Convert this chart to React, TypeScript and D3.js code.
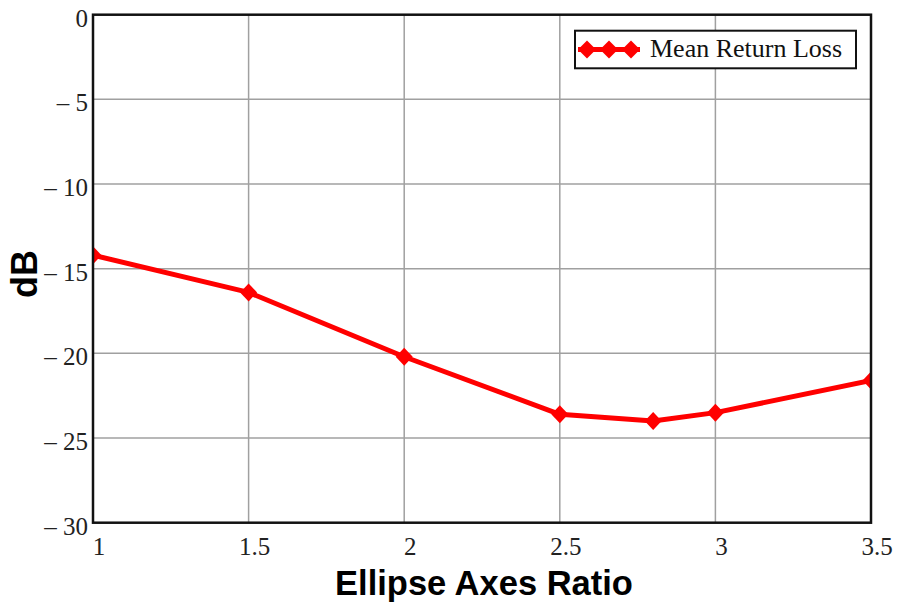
import React from "react";
import * as d3 from "d3";

const ratios = [1, 1.5, 2, 2.5, 2.8, 3, 3.5];
const returnLoss = [-14.2, -16.4, -20.2, -23.6, -24.0, -23.5, -21.6];
const xTicks = [1, 1.5, 2, 2.5, 3, 3.5];
const yTicks = [0, -5, -10, -15, -20, -25, -30];
const seriesName = "Mean Return Loss";
const xTitle = "Ellipse Axes Ratio";
const yTitle = "dB";

const W = 899;
const H = 602;
const L = 93, R = 871, T = 14.7, B = 522.7;

const fmtY = (v: number) => (v < 0 ? "\u2013 " + Math.abs(v) : String(v));

const diamond = (cx: number, cy: number, rx: number, ry: number) =>
  `M${cx},${cy - ry}L${cx + rx},${cy}L${cx},${cy + ry}L${cx - rx},${cy}Z`;

export default function App() {
  const x = d3.scaleLinear().domain([1, 3.5]).range([L, R]);
  const y = d3.scaleLinear().domain([-30, 0]).range([B, T]);
  const pts = ratios.map((r, i) => [x(r), y(returnLoss[i])] as [number, number]);
  const line = d3.line<[number, number]>()(pts) || "";
  const serif = "'Liberation Serif', 'Times New Roman', serif";
  const sans = "'Liberation Sans', Arial, sans-serif";
  return (
    <svg
      width={W}
      height={H}
      style={{ position: "absolute", left: 0, top: 0, background: "#fff" }}
    >
      <defs>
        <clipPath id="plotclip">
          <rect x={L} y={T} width={R - L} height={B - T} />
        </clipPath>
      </defs>
      <rect x={0} y={0} width={W} height={H} fill="#fff" />
      {/* grid */}
      {xTicks.slice(1, -1).map((t) => (
        <line key={"gx" + t} x1={x(t)} x2={x(t)} y1={T} y2={B} stroke="#a0a0a0" strokeWidth={1.5} />
      ))}
      {yTicks.slice(1, -1).map((t) => (
        <line key={"gy" + t} x1={L} x2={R} y1={y(t)} y2={y(t)} stroke="#a0a0a0" strokeWidth={1.5} />
      ))}
      {/* series */}
      <g clipPath="url(#plotclip)">
        <path d={line} fill="none" stroke="#ff0000" strokeWidth={5} strokeLinejoin="round" />
        {pts.map(([px, py], i) => (
          <path key={i} d={diamond(px, py, 8.5, 9)} fill="#ff0000" />
        ))}
      </g>
      {/* frame */}
      <rect x={L} y={T} width={R - L} height={B - T} fill="none" stroke="#111" strokeWidth={2.5} />
      {/* y tick labels */}
      {yTicks.map((t) => (
        <text key={"ty" + t} x={88} y={y(t) + 12} textAnchor="end" fontFamily={serif} fontSize={25} fill="#222">
          {fmtY(t)}
        </text>
      ))}
      {/* x tick labels */}
      {xTicks.map((t) => (
        <text key={"tx" + t} x={x(t) + 6} y={555} textAnchor="middle" fontFamily={serif} fontSize={25} fill="#222">
          {String(t)}
        </text>
      ))}
      {/* axis titles */}
      <text x={(L + R) / 2 + 2} y={595} textAnchor="middle" fontFamily={sans} fontWeight="bold" fontSize={34.5} fill="#000">
        {xTitle}
      </text>
      <text
        transform={`translate(37,274) rotate(-90)`}
        textAnchor="middle"
        fontFamily={sans}
        fontWeight="bold"
        fontSize={36}
        fill="#000"
      >
        {yTitle}
      </text>
      {/* legend */}
      <rect x={575} y={30.7} width={281} height={37.6} fill="#fff" stroke="#111" strokeWidth={2} />
      <line x1={578} x2={640} y1={49.5} y2={49.5} stroke="#ff0000" strokeWidth={5} />
      {[587, 609, 631].map((cx) => (
        <path key={cx} d={diamond(cx, 49.5, 9, 9)} fill="#ff0000" />
      ))}
      <text x={650} y={56.5} fontFamily={serif} fontSize={26} fill="#111">
        {seriesName}
      </text>
    </svg>
  );
}
